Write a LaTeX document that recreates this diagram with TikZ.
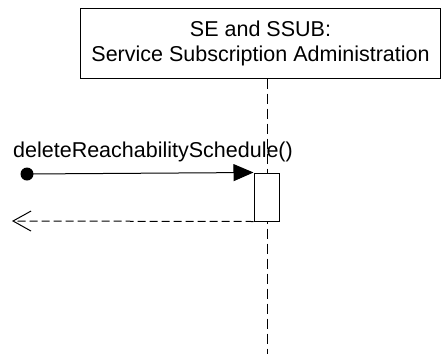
\documentclass[tikz,border=0pt]{standalone}
\usepackage{fontspec}
\setmainfont{Liberation Sans}
\usetikzlibrary{arrows.meta}
\begin{document}
\begin{tikzpicture}[x=1pt,y=-1pt,
  lbl/.style={font=\fontsize{21.5}{25}\selectfont, inner sep=0pt},
  objbox/.style={draw, line width=1pt, fill=white, minimum width=360pt, minimum height=70pt, align=center, font=\fontsize{21.5}{25}\selectfont, inner sep=0pt},
  actbox/.style={draw, line width=1pt, fill=white, minimum width=25pt, minimum height=48pt, inner sep=0pt},
  lifeline/.style={line width=1pt, dash pattern=on 10pt off 5pt},
  msg/.style={line width=1pt, -{Triangle[length=20pt,width=17pt]}},
  ret/.style={line width=1pt, dash pattern=on 8pt off 4pt, -{Straight Barb[length=18pt,width=20pt,line width=1pt]}}]
\useasboundingbox (0,0) rectangle (442,354);
\coordinate (llend) at (267,354);
\node[objbox] (obj) at (260.5,43) {SE and SSUB:\\Service Subscription Administration};
\draw[lifeline] (obj.south -| llend) -- (llend);
\node[actbox] (act) at (266.5,197) {};
\fill (27,174) circle (6.5pt) coordinate (start);
\draw[msg] (start) -- (act.north west);
\node[lbl, anchor=base west] (lab) at (13,157) {deleteReachabilitySchedule()};
\coordinate (retend) at (12,221);
\draw[ret] (act.south west) -- (retend);
\end{tikzpicture}
\end{document}
